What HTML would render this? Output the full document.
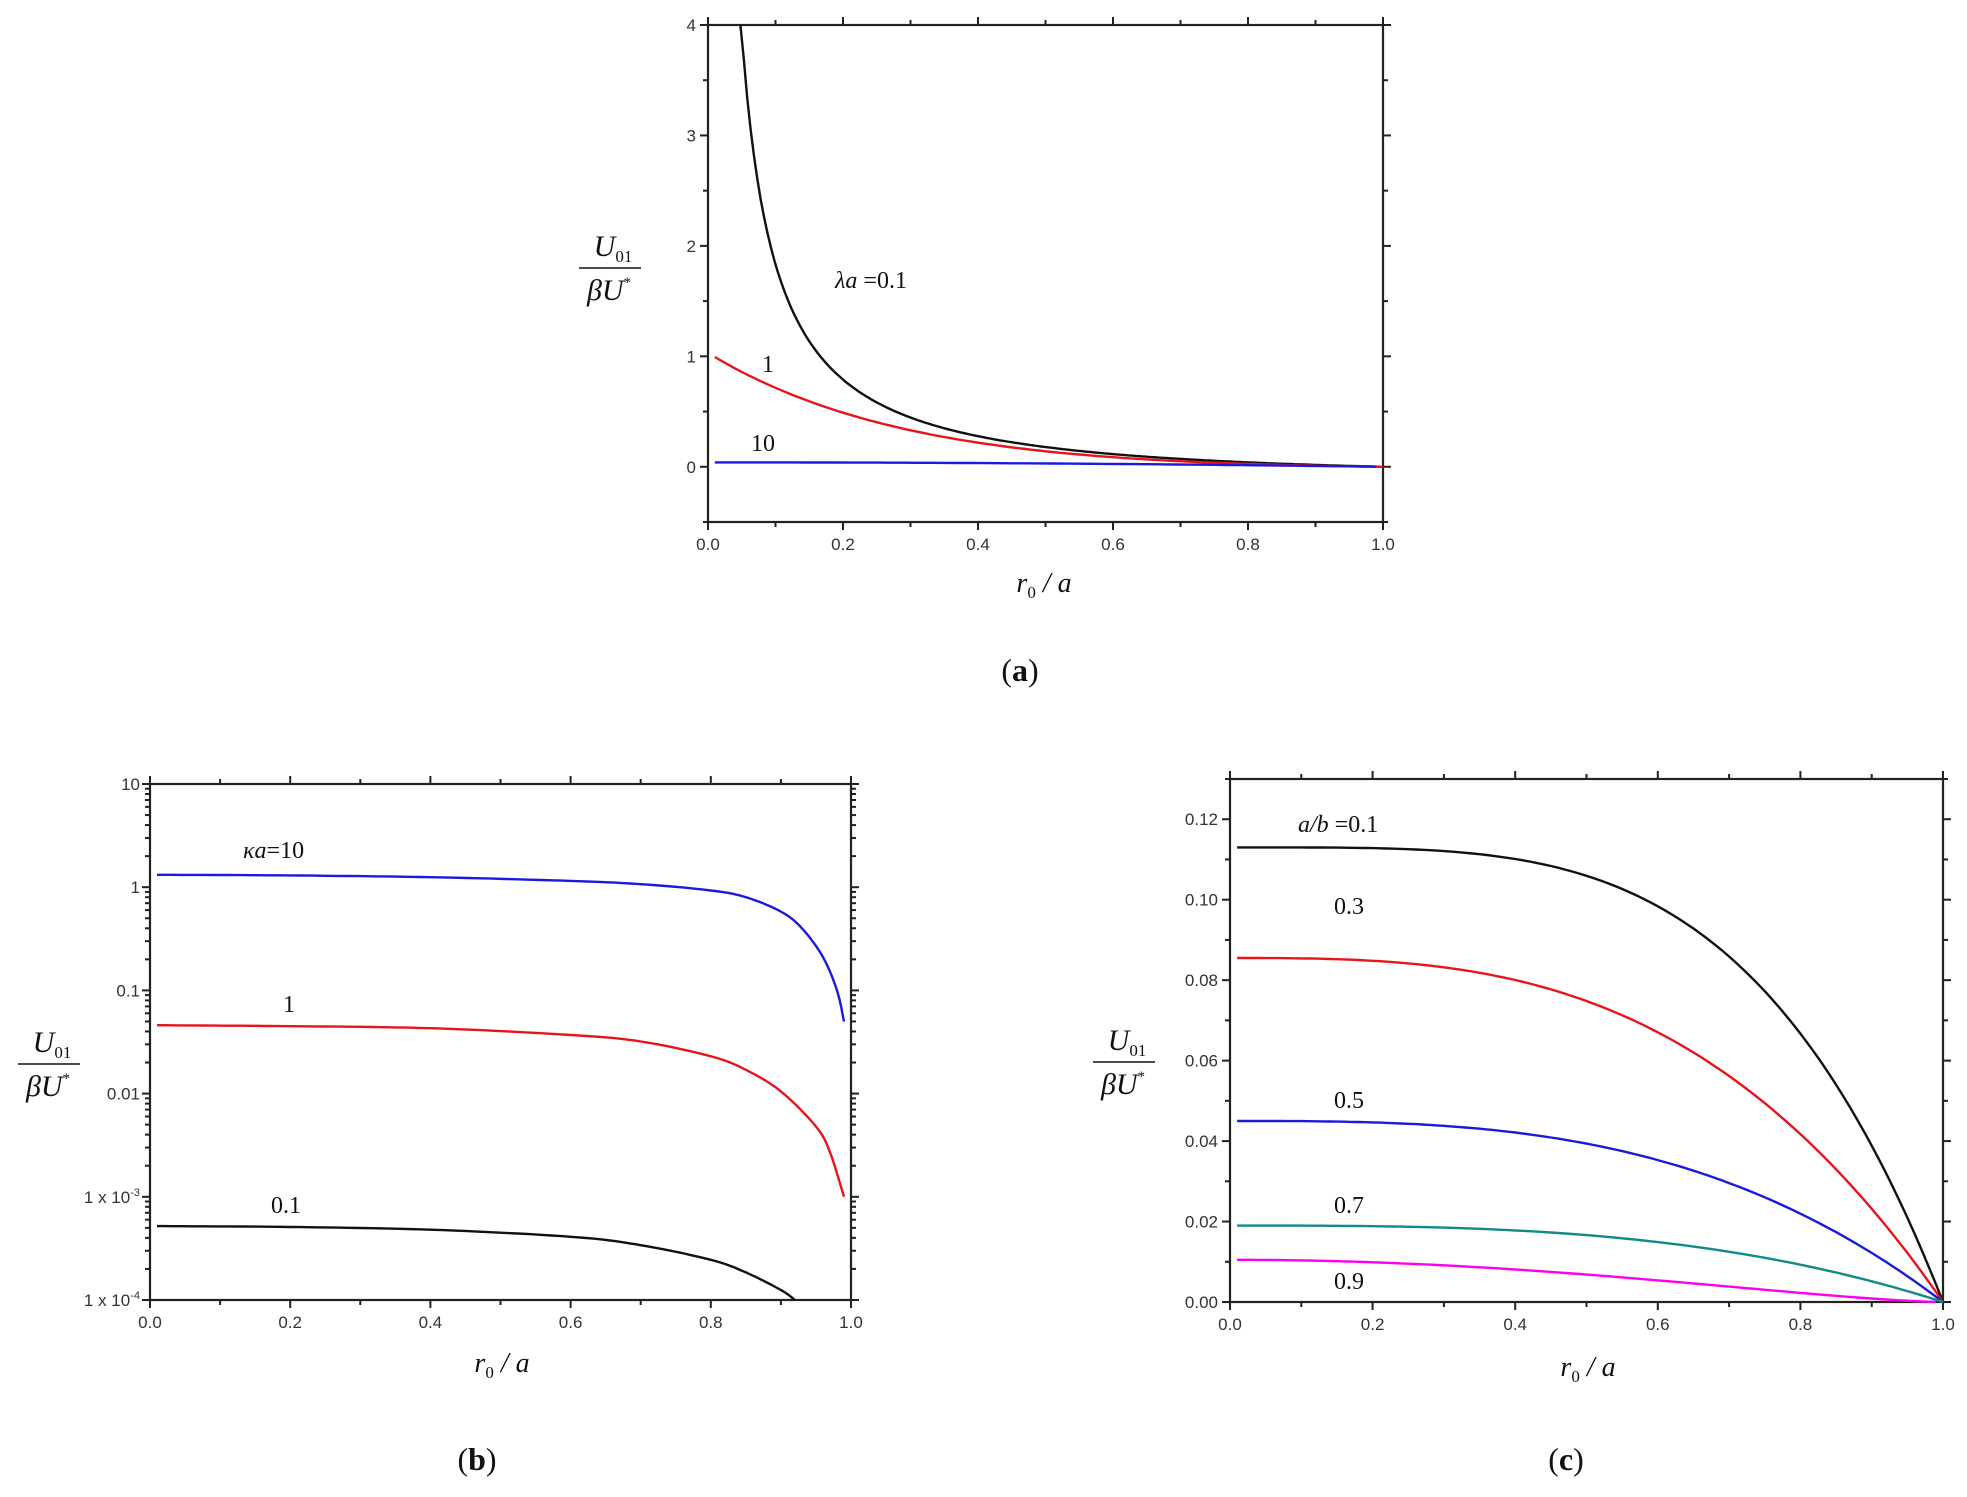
<!DOCTYPE html>
<html><head><meta charset="utf-8"><style>
html,body{margin:0;padding:0;background:#fff;}
svg{display:block;}
.tl{font-family:"Liberation Sans",Arial,sans-serif;font-size:17px;fill:#333;}
.ser{font-family:"Liberation Serif","Times New Roman",serif;fill:#111;}
</style></head><body>
<svg id="s" width="1967" height="1497" viewBox="0 0 1967 1497" xmlns="http://www.w3.org/2000/svg"></svg>
<script>
const S=document.getElementById('s');let h='';
function ln(x1,y1,x2,y2,w,c){h+=`<line x1="${x1}" y1="${y1}" x2="${x2}" y2="${y2}" stroke="${c||'#222'}" stroke-width="${w||2}"/>`;}
function tx(x,y,t,cls,anchor,extra){h+=`<text x="${x}" y="${y}" class="${cls}" text-anchor="${anchor||'middle'}" ${extra||''}>${t}</text>`;}
function frame(L,T,R,B){
  h+=`<rect x="${L}" y="${T}" width="${R-L}" height="${B-T}" fill="none" stroke="#222" stroke-width="2.2"/>`;
  for(let i=0;i<=10;i++){const x=L+(R-L)*i/10,len=i%2==0?8:5;ln(x,B,x,B+len);ln(x,T,x,T-len);
    if(i%2==0)tx(x,B+28,(i/10).toFixed(1),'tl');}
}
function path(pts,col,w){h+=`<polyline fill="none" stroke="${col}" stroke-width="${w||2.4}" stroke-linejoin="round" points="${pts.map(p=>p[0].toFixed(1)+','+p[1].toFixed(1)).join(' ')}"/>`;}
function ylab(cx,cy){
  tx(cx+4,cy-14,'U<tspan font-size="17" dy="6" font-style="normal">01</tspan>','ser','middle','font-size="30" font-style="italic"');
  ln(cx-30,cy-2,cx+32,cy-2,1.5,'#111');
  tx(cx,cy+30,'βU<tspan font-size="15" dy="-13" font-style="normal">*</tspan>','ser','middle','font-size="30" font-style="italic"');
}
function xlab(cx,cy){tx(cx,cy,'r<tspan font-size="17" dy="6" font-style="normal">0</tspan><tspan dy="-6"> / a</tspan>','ser','middle','font-size="28" font-style="italic"');}
function cap(cx,cy,l){tx(cx,cy,'(<tspan font-weight="bold">'+l+'</tspan>)','ser','middle','font-size="32"');}

// ---------- Panel a ----------
{const L=708,T=25,R=1383,B=522,ymin=-0.5,ymax=4;
 const X=r=>L+(R-L)*r,Y=v=>B-(B-T)*(v-ymin)/(ymax-ymin);
 frame(L,T,R,B);
 for(let k=0;k<=9;k++){const v=-0.5+k*0.5,y=Y(v),len=k%2==1?8:5;ln(L-len,y,L,y);ln(R,y,R+len,y);
   if(k%2==1)tx(L-12,y+6,String(v),'tl','end');}
 let p=[];for(let r=0.048;r<=1.0001;r+=0.005)p.push([X(r),Y(Math.min(4,0.21*(1/r-1)*(1-0.3*r)))]);path(p,'#111');
 p=[];for(let r=0.01;r<=1.0001;r+=0.01)p.push([X(r),Y(1.03*(1-r)*Math.exp(-2.6*r))]);path(p,'#e8141b');
 p=[];for(let r=0.01;r<=1.0001;r+=0.02)p.push([X(r),Y(0.04*(1-r*r))]);path(p,'#1a1adf');
 tx(835,288,'λa <tspan font-style="normal">=0.1</tspan>','ser','start','font-size="24" font-style="italic"');
 tx(768,372,'1','ser','middle','font-size="24"');
 tx(763,451,'10','ser','middle','font-size="24"');
 ylab(609,270);xlab(1044,592);cap(1020,681,'a');
}
// ---------- Panel b ----------
{const L=150,T=784,R=851,B=1300;
 const X=r=>L+(R-L)*r,Y=v=>B-(B-T)*(Math.log10(v)+4)/5;
 frame(L,T,R,B);
 const labs=['1 x 10<tspan font-size="11" dy="-7">-4</tspan>','1 x 10<tspan font-size="11" dy="-7">-3</tspan>','0.01','0.1','1','10'];
 for(let d=-4;d<=1;d++){const y=Y(Math.pow(10,d));ln(L-8,y,L,y);ln(R,y,R+8,y);
   tx(L-10,y+6,labs[d+4],'tl','end');
   if(d<1)for(let m=2;m<=9;m++){const yy=Y(m*Math.pow(10,d));ln(L-5,yy,L,yy);ln(R,yy,R+5,yy);}}
 function interp(tab){
   const P=tab.map(t=>[t[0],Math.log10(t[1])]);const n=P.length;let out=[];
   for(let i=0;i<n-1;i++){const p0=P[Math.max(0,i-1)],p1=P[i],p2=P[i+1],p3=P[Math.min(n-1,i+2)];
     for(let k=0;k<12;k++){const t=k/12,t2=t*t,t3=t2*t;
       const f=(a,b,c,d)=>0.5*(2*b+(-a+c)*t+(2*a-5*b+4*c-d)*t2+(-a+3*b-3*c+d)*t3);
       out.push([X(f(p0[0],p1[0],p2[0],p3[0])),Y(Math.pow(10,f(p0[1],p1[1],p2[1],p3[1])))]);}}
   const l=P[n-1];out.push([X(l[0]),Y(Math.pow(10,l[1]))]);return out;}
 path(interp([[0.01,1.32],[0.2,1.30],[0.4,1.25],[0.6,1.15],[0.7,1.07],[0.8,0.93],[0.85,0.8],[0.9,0.58],[0.93,0.4],[0.96,0.21],[0.98,0.1],[0.99,0.05]]),'#1a1adf');
 path(interp([[0.01,0.046],[0.2,0.045],[0.4,0.043],[0.6,0.037],[0.7,0.032],[0.8,0.023],[0.85,0.017],[0.9,0.0105],[0.95,0.0048],[0.97,0.0027],[0.99,0.001]]),'#e8141b');
 path(interp([[0.01,5.2e-4],[0.2,5.1e-4],[0.4,4.8e-4],[0.6,4.1e-4],[0.7,3.4e-4],[0.8,2.45e-4],[0.85,1.85e-4],[0.9,1.25e-4],[0.92,1e-4]]),'#111');
 tx(243,858,'κa<tspan font-style="normal">=10</tspan>','ser','start','font-size="24" font-style="italic"');
 tx(289,1012,'1','ser','middle','font-size="24"');
 tx(286,1213,'0.1','ser','middle','font-size="24"');
 ylab(48,1066);xlab(502,1372);cap(477,1470,'b');
}
// ---------- Panel c ----------
{const L=1230,T=779,R=1943,B=1302,ymax=0.13;
 const X=r=>L+(R-L)*r,Y=v=>B-(B-T)*v/ymax;
 frame(L,T,R,B);
 for(let k=0;k<=13;k++){const v=k*0.01,y=Y(v),len=k%2==0?8:5;ln(L-len,y,L,y);ln(R,y,R+len,y);
   if(k%2==0)tx(L-12,y+6,v.toFixed(2),'tl','end');}
 function f(a,fn){let p=[];for(let r=0.01;r<=1.0001;r+=0.01)p.push([X(r),Y(a*fn(r))]);return p;}
 path(f(0.113,r=>1-Math.pow(r,4)),'#111');
 path(f(0.0855,r=>1-Math.pow(r,3)),'#e8141b');
 path(f(0.045,r=>1-Math.pow(r,3)),'#1a1adf');
 path(f(0.019,r=>1-Math.pow(r,3)),'#138a8a');
 path(f(0.0105,r=>Math.pow(1-r*r,1.5)),'#f0e','2.4');
 tx(1298,832,'a/b <tspan font-style="normal">=0.1</tspan>','ser','start','font-size="24" font-style="italic"');
 tx(1349,914,'0.3','ser','middle','font-size="24"');
 tx(1349,1108,'0.5','ser','middle','font-size="24"');
 tx(1349,1213,'0.7','ser','middle','font-size="24"');
 tx(1349,1289,'0.9','ser','middle','font-size="24"');
 ylab(1123,1064);xlab(1588,1376);cap(1566,1470,'c');
}
S.innerHTML=h;
</script>
</body></html>
